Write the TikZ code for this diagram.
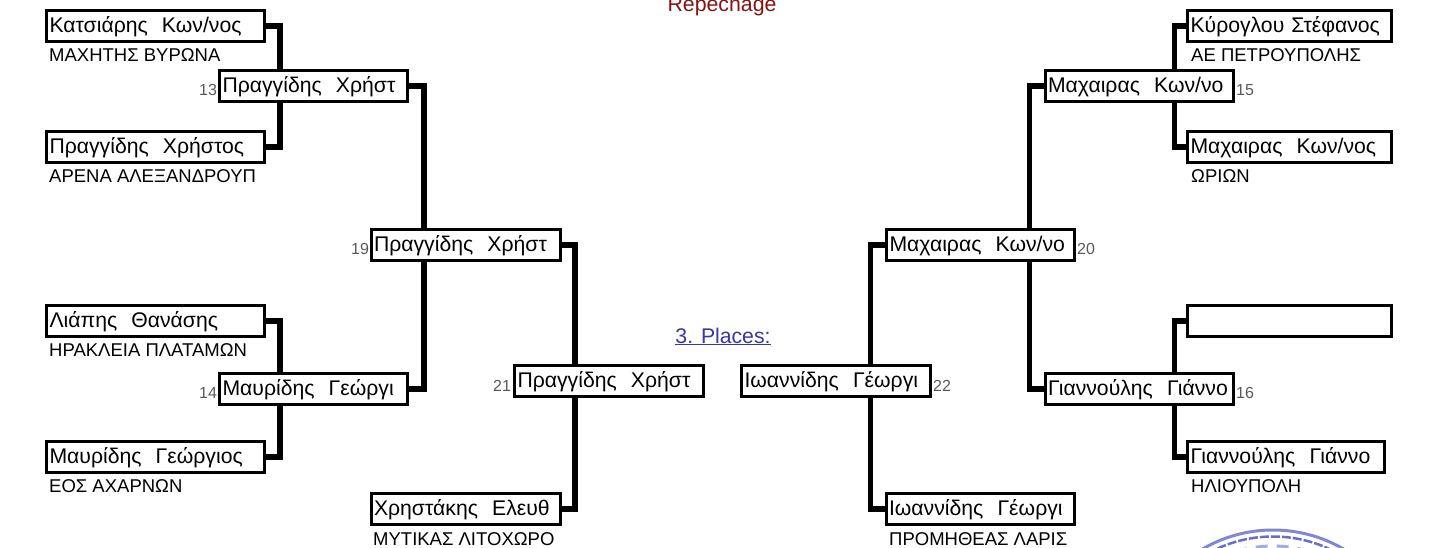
\documentclass[tikz,border=0pt]{standalone}
\usepackage{fontspec}
\setmainfont{Liberation Sans}
\usetikzlibrary{positioning}
\definecolor{seal}{RGB}{75,85,190}
\definecolor{repred}{RGB}{130,20,20}
\definecolor{placeblue}{RGB}{55,55,165}
\tikzset{namebox/.style = {draw, line width=3pt, fill=white, anchor=west, text height=15pt, text depth=3pt, inner xsep=3pt, inner ysep=6.5pt, align=left, font=\fontsize{21.2}{24}\selectfont}}
\tikzset{clubname/.style = {anchor=base west, inner sep=0, font=\fontsize{18.5}{20}\selectfont}}
\tikzset{matchno/.style = {inner sep=0, text=black!65, font=\fontsize{16}{18}\selectfont}}
\tikzset{link/.style = {line width=5.5pt}}

\begin{document}
\begin{tikzpicture}[x=1pt,y=-1pt]
        \clip (0,0) rectangle (1450,547);
        % seal
        \draw [seal,line width=3pt,opacity=0.7] (1273,670) circle [radius=140];
        \draw [seal,line width=2.5pt,opacity=0.85,dash pattern=on 9pt off 2pt] (1273,670) circle [radius=133.5];
        \draw [seal,line width=3pt,opacity=0.5,dash pattern=on 12pt off 9pt] (1273,670) circle [radius=124];
        % headings
        \node (repechage) [anchor=base,inner sep=0,text=repred,font=\fontsize{21.3}{24}\selectfont] at (722,11) {Repechage};
        \node (places) [anchor=base,inner sep=0,text=placeblue,font=\fontsize{21.2}{24}\selectfont] at (723,343) {\underline{3. Places:}};
        % left side
        \node (a1) [namebox,text width=212pt] at (45,26) {Κατσιάρης~~Κων/νος};
        \node (a2) [namebox,text width=212pt] at (45,147) {Πραγγίδης~~Χρήστος};
        \node (a3) [namebox,text width=212pt] at (45,321) {Λιάπης~~Θανάσης};
        \node (a4) [namebox,text width=212pt] at (45,457) {Μαυρίδης~~Γεώργιος};
        \node (b1) [namebox,text width=182pt] at (218,86) {Πραγγίδης~~Χρήστ};
        \node (b2) [namebox,text width=182pt] at (218,389) {Μαυρίδης~~Γεώργι};
        \node (c1) [namebox,text width=183pt] at (369.5,245) {Πραγγίδης~~Χρήστ};
        \node (c2) [namebox,text width=183pt] at (369.5,509) {Χρηστάκης~~Ελευθ};
        \node (d1) [namebox,text width=183pt] at (513,381) {Πραγγίδης~~Χρήστ};
        % right side
        \node (d2) [namebox,text width=183pt] at (740,381) {Ιωαννίδης~~Γέωργι};
        \node (e1) [namebox,text width=182pt] at (885,245) {Μαχαιρας~~Κων/νο};
        \node (e2) [namebox,text width=182pt] at (884.5,509) {Ιωαννίδης~~Γέωργι};
        \node (f1) [namebox,text width=182pt] at (1043.5,86) {Μαχαιρας~~Κων/νο};
        \node (f2) [namebox,text width=182pt] at (1043.5,389) {Γιαννούλης~~Γιάννο};
        \node (g1) [namebox,text width=198pt] at (1186,26) {Κύρογλου~Στέφανος};
        \node (g2) [namebox,text width=198pt] at (1186,147) {Μαχαιρας~~Κων/νος};
        \node (g3) [namebox,text width=198pt] at (1186,321) {};
        \node (g4) [namebox,text width=191pt] at (1186,457) {Γιαννούλης~~Γιάννο};
        % clubs
        \node (ca1) [clubname] at (49,61) {ΜΑΧΗΤΗΣ ΒΥΡΩΝΑ};
        \node (ca2) [clubname] at (49,182) {ΑΡΕΝΑ ΑΛΕΞΑΝΔΡΟΥΠ};
        \node (ca3) [clubname] at (49,356) {ΗΡΑΚΛΕΙΑ ΠΛΑΤΑΜΩΝ};
        \node (ca4) [clubname] at (49,492) {ΕΟΣ ΑΧΑΡΝΩΝ};
        \node (cc2) [clubname] at (373,545) {ΜΥΤΙΚΑΣ ΛΙΤΟΧΩΡΟ};
        \node (ce2) [clubname] at (889,545) {ΠΡΟΜΗΘΕΑΣ ΛΑΡΙΣ};
        \node (cg1) [clubname] at (1191,61) {ΑΕ ΠΕΤΡΟΥΠΟΛΗΣ};
        \node (cg2) [clubname] at (1191,182) {ΩΡΙΩΝ};
        \node (cg4) [clubname] at (1191,492) {ΗΛΙΟΥΠΟΛΗ};
        % match numbers
        \node (m13) [matchno] at (208,90) {13};
        \node (m14) [matchno] at (208,393) {14};
        \node (m15) [matchno] at (1245,90) {15};
        \node (m16) [matchno] at (1245,393) {16};
        \node (m19) [matchno] at (360,249) {19};
        \node (m20) [matchno] at (1086,249) {20};
        \node (m21) [matchno] at (502,386) {21};
        \node (m22) [matchno] at (942,386) {22};
        % connectors
        \draw [link] (a1.east) -| ([xshift=62pt]b1.north west);
        \draw [link] (a2.east) -| ([xshift=62pt]b1.south west);
        \draw [link] (a3.east) -| ([xshift=62pt]b2.north west);
        \draw [link] (a4.east) -| ([xshift=62pt]b2.south west);
        \draw [link] (b1.east) -| ([xshift=54.5pt]c1.north west);
        \draw [link] (b2.east) -| ([xshift=54.5pt]c1.south west);
        \draw [link] (c1.east) -| ([xshift=62pt]d1.north west);
        \draw [link] (c2.east) -| ([xshift=62pt]d1.south west);
        \draw [link] (e1.west) -| ([xshift=130.5pt]d2.north west);
        \draw [link] (e2.west) -| ([xshift=130.5pt]d2.south west);
        \draw [link] (f1.west) -| ([xshift=144.5pt]e1.north west);
        \draw [link] (f2.west) -| ([xshift=144.5pt]e1.south west);
        \draw [link] (g1.west) -| ([xshift=131pt]f1.north west);
        \draw [link] (g2.west) -| ([xshift=131pt]f1.south west);
        \draw [link] (g3.west) -| ([xshift=131pt]f2.north west);
        \draw [link] (g4.west) -| ([xshift=131pt]f2.south west);
    \end{tikzpicture}
\end{document}
